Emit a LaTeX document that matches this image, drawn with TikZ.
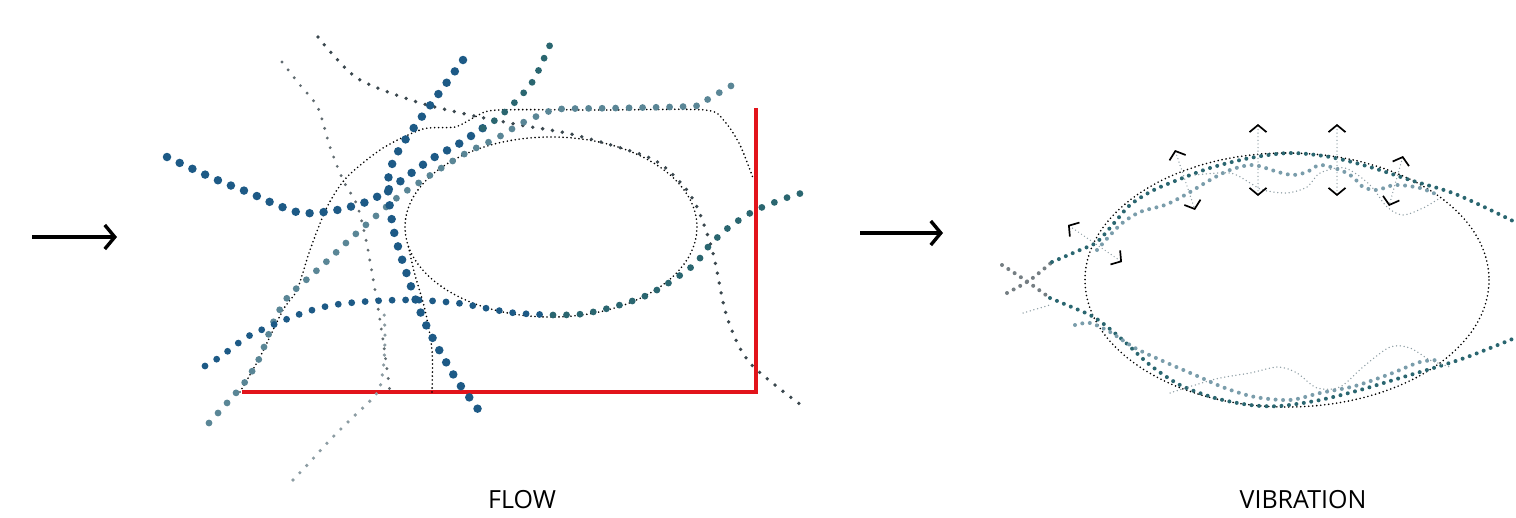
\documentclass[tikz,border=0pt]{standalone}
\usepackage{fontspec}
\setsansfont{Open Sans}
\usetikzlibrary{arrows.meta}
\definecolor{dblue}{HTML}{1D5A86}
\definecolor{dteal}{HTML}{2A6670}
\definecolor{gblue}{HTML}{5A8696}
\definecolor{lblue}{HTML}{7A9DAB}
\definecolor{dgrey}{HTML}{3A474E}
\definecolor{lgrey}{HTML}{8C9CA3}
\definecolor{redline}{HTML}{E2141B}
\tikzset{
  dots/.style={line cap=round, dash pattern=on 0pt off #1},
  bigdots/.style={dots=14pt, line width=8.5pt},
  meddots/.style={dots=13.5pt, line width=6.8pt},
  smalldots/.style={dots=10pt, line width=3.8pt},
  vdots/.style={dots=7.5pt, line width=4pt},
  finedots/.style={dots=4pt, line width=1.8pt, black},
  wavedots/.style={dots=3.8pt, line width=1.5pt, lgrey},
  mainarrow/.style={line width=3.2pt, black, -{Straight Barb[length=10pt,width=24pt,line width=3.4pt]}},
  vib/.style={dots=3.6pt, line width=1.4pt, lgrey,
    {Straight Barb[length=7pt,width=17pt,line width=1.7pt,color=black]}-{Straight Barb[length=7pt,width=17pt,line width=1.7pt,color=black]}},
  label/.style={font=\sffamily\fontsize{25}{30}\selectfont, text=black, inner sep=0pt}
}
\begin{document}
\begin{tikzpicture}[x=1pt,y=-1pt]
\useasboundingbox (0,0) rectangle (1516,517);
\fill[white] (0,0) rectangle (1516,517);

% main arrows
\coordinate (a1s) at (32,237); \coordinate (a1e) at (117,237);
\coordinate (a2s) at (860,233); \coordinate (a2e) at (943,233);
\draw[mainarrow] (a1s) -- (a1e);
\draw[mainarrow] (a2s) -- (a2e);

% ================= FLOW =================
% red frame
\coordinate (r1) at (242,392); \coordinate (r2) at (756,392); \coordinate (r3) at (756,108);
\draw[redline, line width=3.2pt] (r1) -- (r2) -- (r3);

% outer thin dotted shape
\draw[finedots] plot[smooth, tension=0.45] coordinates {(240,392) (260,357) (283,310) (297,290) (310,250) (327,207) (347,177) (383,148) (423,129) (455,127) (475,117) (497,110) (600,110) (705,110) (725,122) (740,145) (753,178)};
% inner ellipse
\draw[finedots] (551,227) ellipse [x radius=146, y radius=90];
% inner thin line to ellipse
\draw[finedots] plot[smooth] coordinates {(432,392) (432,350) (425,310) (415,275) (408,245)};
% thin grey line from top
\draw[smalldots, line width=3.2pt, dgrey!80] plot[smooth] coordinates {(282,62) (300,85) (318,108) (330,147) (343,180) (357,205) (366,240) (375,290) (383,340) (390,392)};
% lower-left grey line
\draw[smalldots, line width=3.6pt, lgrey] plot[smooth] coordinates {(293,480) (310,462) (330,440) (350,420) (377,393) (383,370) (385,340) (384,310)};
% small dark line hugging ellipse
\draw[smalldots, dgrey] plot[smooth] coordinates {(318,37) (357,78) (417,102) (470,115) (520,125) (575,135) (650,158) (680,182) (697,207) (713,253) (727,317) (750,363) (805,408)};
% grey-blue line C
\draw[meddots, gblue] plot[smooth] coordinates {(209,423) (227,403) (245,382) (260,357) (273,323) (287,298) (305,281) (325,263) (347,242) (368,223) (398,197) (420,182) (443,167) (468,152) (497,138) (522,123) (545,113) (560,109) (620,108) (695,106) (705,101) (729,87) (742,80)};
% bottom curve E
\draw[meddots, dblue] plot[smooth] coordinates {(205,366) (220,357) (247,337) (273,325) (303,313) (333,305) (373,301) (415,300) (457,303) (485,308) (515,313) (553,315)};
\draw[meddots, dteal] plot[smooth] coordinates {(553,315) (582,314) (613,307) (643,297) (667,284) (695,264) (708,247) (728,228) (754,211) (786,198) (802,193)};
% thick line A
\draw[bigdots, dblue] plot[smooth] coordinates {(167,157) (195,170) (222,182) (250,193) (277,205) (302,213) (332,211) (360,204) (375,198) (398,183) (410,174) (433,158) (457,145) (483,128)};
\draw[meddots, dteal] plot[smooth] coordinates {(483,128) (498,118) (517,100) (533,81) (546,54) (552,40)};
% thick line B
\draw[bigdots, dblue] plot[smooth] coordinates {(463,60) (445,85) (418,122) (400,148) (390,170) (388,190) (393,227) (400,253) (415,298) (427,327) (442,355) (458,382) (475,405) (483,417)};

\node[label] (flow) at (522,500) {FLOW};

% ================= VIBRATION =================
\draw[finedots] (1287,280) ellipse [x radius=202, y radius=127];
% crossing lines at left
\draw[vdots, dgrey!70] plot[smooth] coordinates {(1002,265) (1025,280) (1050,298)};
\draw[vdots, dgrey!70] plot[smooth] coordinates {(1007,293) (1030,280) (1052,262)};
\draw[wavedots] (1023,313) -- (1050,305);
% top curves
\draw[vdots, dteal] plot[smooth] coordinates {(1052,262) (1080,250) (1097,242) (1115,222) (1130,205) (1150,192) (1170,183) (1210,168) (1250,158) (1290,153) (1330,157) (1370,167) (1410,180) (1450,192) (1480,205) (1515,222)};
\draw[vdots, lblue] plot[smooth] coordinates {(1097,250) (1120,225) (1140,212) (1165,205) (1185,195) (1210,180) (1230,170) (1253,165) (1278,172) (1293,175) (1307,172) (1320,165) (1340,170) (1353,177) (1363,187) (1377,190) (1395,185) (1420,188) (1440,196)};
\draw[wavedots] plot[smooth] coordinates {(1195,175) (1230,173) (1250,183) (1263,190) (1287,193) (1307,187) (1320,173) (1345,168) (1370,185) (1387,207) (1403,215) (1423,208) (1440,198)};
% bottom curves
\draw[vdots, dteal] plot[smooth] coordinates {(1050,298) (1062,303) (1090,315) (1105,325) (1125,342) (1150,365) (1180,385) (1215,398) (1250,405) (1280,406) (1320,400) (1360,390) (1400,378) (1440,366) (1470,356) (1515,338)};
\draw[vdots, lblue] plot[smooth] coordinates {(1075,325) (1090,323) (1110,332) (1135,348) (1165,362) (1195,375) (1225,388) (1255,397) (1290,400) (1320,393) (1355,386) (1390,374) (1420,362) (1440,360)};
\draw[wavedots] plot[smooth] coordinates {(1170,393) (1195,385) (1220,378) (1250,373) (1278,367) (1297,373) (1317,388) (1340,387) (1363,367) (1390,347) (1410,348) (1430,360) (1450,367)};
% vibration arrows
\coordinate (v1a) at (1068,225); \coordinate (v1b) at (1122,262);
\coordinate (v2a) at (1175,150); \coordinate (v2b) at (1195,210);
\coordinate (v3a) at (1258,124); \coordinate (v3b) at (1258,196);
\coordinate (v4a) at (1337,124); \coordinate (v4b) at (1337,196);
\coordinate (v5a) at (1403,156); \coordinate (v5b) at (1389,206);
\draw[vib] (v1a) -- (v1b);
\draw[vib] (v2a) -- (v2b);
\draw[vib] (v3a) -- (v3b);
\draw[vib] (v4a) -- (v4b);
\draw[vib] (v5a) -- (v5b);

\node[label] (vibration) at (1303,500) {VIBRATION};
\end{tikzpicture}
\end{document}
